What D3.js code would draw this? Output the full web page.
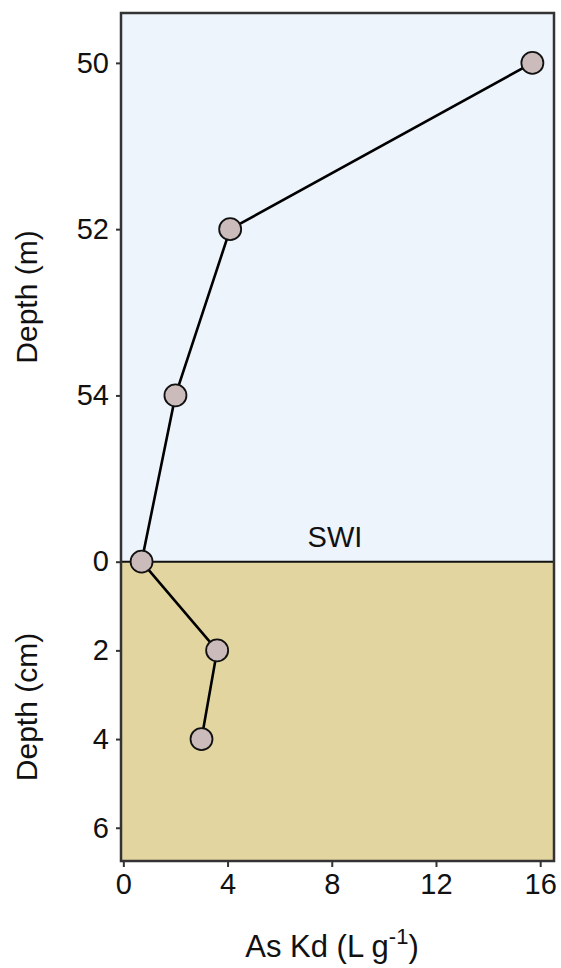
<!DOCTYPE html>
<html>
<head>
<meta charset="utf-8">
<script src="https://cdn.jsdelivr.net/npm/d3@7"></script>
<style>
  body { margin: 0; background: #fff; }
  svg text { font-family: Arial, "Liberation Sans", sans-serif; fill: #111; }
</style>
</head>
<body>
<script>
// Data
const waterDepth = [50, 52, 54];      // m
const waterKd    = [15.7, 4.1, 2.0];
const sedDepth   = [0, 2, 4];         // cm
const sedKd      = [0.7, 3.6, 3.0];

const xTicks     = [0, 4, 8, 12, 16];
const waterTicks = [50, 52, 54];
const sedTicks   = [0, 2, 4, 6];

const WIDTH = 561, HEIGHT = 968;
const plotLeft = 121, plotRight = 554, plotTop = 13, plotBottom = 861, swiY = 561.7;

let svg = d3.select('body').append('svg')
            .attr('width', WIDTH)
            .attr('height', HEIGHT);

let x = d3.scaleLinear().domain([-0.09, 16.53]).range([plotLeft, plotRight]);
let yWater = d3.scaleLinear().domain([49.4, 56]).range([plotTop, swiY]);
let ySed = d3.scaleLinear().domain([0, 6.75]).range([swiY, plotBottom]);

// background zones
svg.append('rect')
   .attr('x', plotLeft).attr('y', plotTop)
   .attr('width', plotRight - plotLeft).attr('height', swiY - plotTop)
   .style('fill', '#eef4fc');
svg.append('rect')
   .attr('x', plotLeft).attr('y', swiY)
   .attr('width', plotRight - plotLeft).attr('height', plotBottom - swiY)
   .style('fill', '#e3d59f');

// sediment-water interface
svg.append('line')
   .attr('x1', plotLeft).attr('x2', plotRight)
   .attr('y1', swiY).attr('y2', swiY)
   .style('stroke', '#111').style('stroke-width', 2);

svg.append('text')
   .attr('x', 335).attr('y', 547)
   .attr('text-anchor', 'middle')
   .style('font-size', '29px')
   .text('SWI');

// one list of points for the profile line
let pts = waterDepth.map((d, i) => [x(waterKd[i]), yWater(d)])
            .concat(sedDepth.map((d, i) => [x(sedKd[i]), ySed(d)]));

svg.append('path')
   .attr('d', d3.line()(pts))
   .style('fill', 'none')
   .style('stroke', '#000')
   .style('stroke-width', 2.6);

svg.selectAll('circle.pt')
   .data(pts)
   .enter().append('circle')
   .attr('class', 'pt')
   .attr('cx', d => d[0])
   .attr('cy', d => d[1])
   .attr('r', 11)
   .style('fill', '#cbbcbb')
   .style('stroke', '#111')
   .style('stroke-width', 1.8);

// frame
svg.append('rect')
   .attr('x', plotLeft).attr('y', plotTop)
   .attr('width', plotRight - plotLeft).attr('height', plotBottom - plotTop)
   .style('fill', 'none')
   .style('stroke', '#333')
   .style('stroke-width', 2.5);

// axes
function styleAxis(g) {
  g.select('.domain').remove();
  g.selectAll('.tick line').style('stroke', '#333').style('stroke-width', 2);
  g.selectAll('.tick text').style('font-size', '29px').attr('fill', '#111')
   .style('font-family', 'Arial, "Liberation Sans", sans-serif');
}

svg.append('g')
   .attr('transform', `translate(0,${plotBottom})`)
   .call(d3.axisBottom(x).tickValues(xTicks).tickFormat(d3.format('d')).tickSize(6).tickPadding(6))
   .call(styleAxis);

svg.append('g')
   .attr('transform', `translate(${plotLeft},0)`)
   .call(d3.axisLeft(yWater).tickValues(waterTicks).tickFormat(d3.format('d')).tickSize(5).tickPadding(7))
   .call(styleAxis);

svg.append('g')
   .attr('transform', `translate(${plotLeft},0)`)
   .call(d3.axisLeft(ySed).tickValues(sedTicks).tickFormat(d3.format('d')).tickSize(5).tickPadding(7))
   .call(styleAxis);

// axis titles
svg.append('text')
   .attr('transform', 'translate(37,297) rotate(-90)')
   .attr('text-anchor', 'middle')
   .style('font-size', '30px')
   .text('Depth (m)');

svg.append('text')
   .attr('transform', 'translate(37,707) rotate(-90)')
   .attr('text-anchor', 'middle')
   .style('font-size', '30px')
   .text('Depth (cm)');

let xl = svg.append('text')
   .attr('x', 332).attr('y', 957)
   .attr('text-anchor', 'middle')
   .style('font-size', '31px');
xl.append('tspan').text('As Kd (L g');
xl.append('tspan').attr('dy', -13).style('font-size', '22px').text('-1');
xl.append('tspan').attr('dy', 13).text(')');
</script>
</body>
</html>
